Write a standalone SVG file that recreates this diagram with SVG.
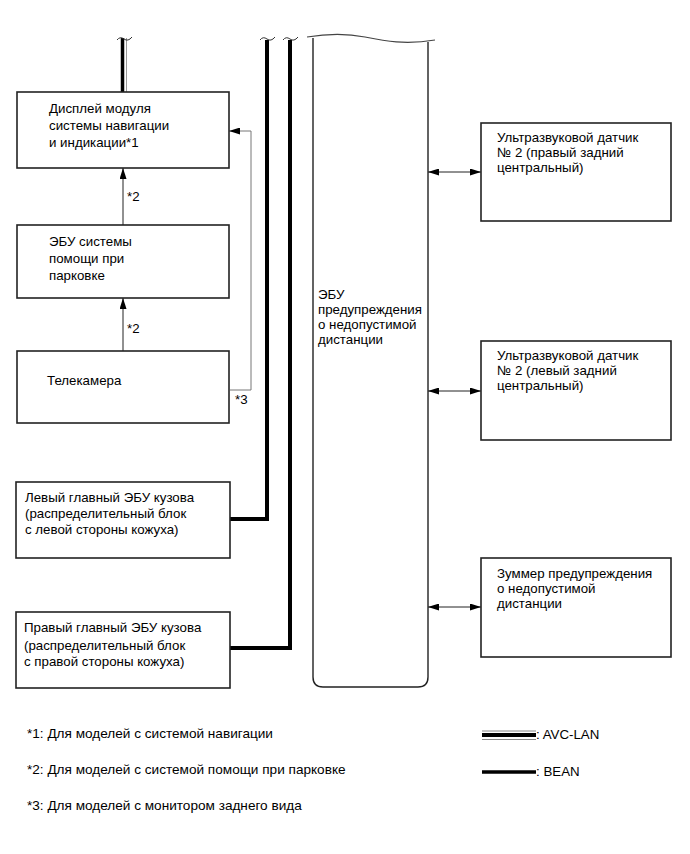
<svg xmlns="http://www.w3.org/2000/svg" width="690" height="854" viewBox="0 0 690 854">
<defs>
<style>
text{font-family:"Liberation Sans",Arial,sans-serif;font-size:13.3px;fill:#000}
.fn{font-size:13.6px}
.box{fill:#fff;stroke:#222;stroke-width:1.6}
.thin{fill:none;stroke:#222;stroke-width:1}
.gray{fill:none;stroke:#777;stroke-width:1}
.bean{fill:none;stroke:#000;stroke-width:4}
.tilde{fill:none;stroke:#333;stroke-width:1}
</style>
<marker id="ah" viewBox="0 0 11 7" refX="11" refY="3.5" markerWidth="11" markerHeight="7" markerUnits="userSpaceOnUse" orient="auto-start-reverse">
<path d="M0,0 L11,3.5 L0,7 Z" fill="#000"/>
</marker>
</defs>

<g id="connectors">
<line x1="122.5" y1="38" x2="122.5" y2="92" stroke="#000" stroke-width="3.5"/>
<line x1="126.5" y1="38" x2="126.5" y2="92" stroke="#999" stroke-width="1"/>
<path class="tilde" d="M117,40 Q120,36 124,39 Q128,42 132,37"/>
<polyline class="bean" points="267,40 267,519 230,519"/>
<polyline class="bean" points="290,40 290,648 230,648"/>
<path class="tilde" d="M260,40 Q263,36 267,39 Q271,42 275,37"/>
<path class="tilde" d="M283,40 Q286,36 290,39 Q294,42 298,37"/>
<line class="thin" x1="123" y1="225" x2="123" y2="168" marker-end="url(#ah)"/>
<line class="thin" x1="123" y1="351" x2="123" y2="298" marker-end="url(#ah)"/>
<text x="127" y="201">*2</text>
<text x="127" y="333">*2</text>
<polyline class="gray" points="230,390 251,390 251,131 229,131" marker-end="url(#ah)"/>
<text x="235" y="404">*3</text>
<line class="thin" x1="428" y1="172" x2="481" y2="172" marker-start="url(#ah)" marker-end="url(#ah)"/>
<line class="thin" x1="428" y1="391" x2="481" y2="391" marker-start="url(#ah)" marker-end="url(#ah)"/>
<line class="thin" x1="428" y1="607" x2="481" y2="607" marker-start="url(#ah)" marker-end="url(#ah)"/>
</g>

<g id="display">
<rect class="box" x="17" y="92" width="212" height="76"/>
<text x="49" y="113">Дисплей модуля</text>
<text x="49" y="130">системы навигации</text>
<text x="49" y="147">и индикации*1</text>
</g>

<g id="parking-ecu">
<rect class="box" x="17" y="225" width="212" height="73"/>
<text x="49" y="246">ЭБУ системы</text>
<text x="49" y="263">помощи при</text>
<text x="49" y="280">парковке</text>
</g>

<g id="camera">
<rect class="box" x="17" y="351" width="212" height="72"/>
<text x="47" y="385">Телекамера</text>
</g>

<g id="left-body-ecu">
<rect class="box" x="16" y="482" width="214" height="76"/>
<text x="25" y="502">Левый главный ЭБУ кузова</text>
<text x="25" y="518">(распределительный блок</text>
<text x="25" y="534">с левой стороны кожуха)</text>
</g>

<g id="right-body-ecu">
<rect class="box" x="16" y="612" width="214" height="76"/>
<text x="24" y="632">Правый главный ЭБУ кузова</text>
<text x="24" y="650">(распределительный блок</text>
<text x="24" y="666">с правой стороны кожуха)</text>
</g>

<g id="distance-ecu">
<path fill="#fff" stroke="#222" stroke-width="1.4" d="M313,38 L313,677 Q313,687 323,687 L418,687 Q428,687 428,677 L428,42"/>
<path fill="none" stroke="#444" stroke-width="1.2" d="M307,37 C325,34 345,33 365,37 C385,41 405,45 435,40"/>
<text x="318" y="299">ЭБУ</text>
<text x="318" y="314">предупреждения</text>
<text x="318" y="329">о недопустимой</text>
<text x="318" y="344">дистанции</text>
</g>

<g id="sensor-right">
<rect class="box" x="481" y="123" width="190" height="98"/>
<text x="497" y="142">Ультразвуковой датчик</text>
<text x="497" y="157">№ 2 (правый задний</text>
<text x="497" y="172">центральный)</text>
</g>

<g id="sensor-left">
<rect class="box" x="481" y="341" width="190" height="99"/>
<text x="497" y="360">Ультразвуковой датчик</text>
<text x="497" y="375">№ 2 (левый задний</text>
<text x="497" y="390">центральный)</text>
</g>

<g id="buzzer">
<rect class="box" x="481" y="558" width="190" height="99"/>
<text x="497" y="578">Зуммер предупреждения</text>
<text x="497" y="593">о недопустимой</text>
<text x="497" y="608">дистанции</text>
</g>

<g id="footnotes">
<text class="fn" x="27" y="738">*1: Для моделей с системой навигации</text>
<text class="fn" x="27" y="774">*2: Для моделей с системой помощи при парковке</text>
<text class="fn" x="27" y="810">*3: Для моделей с монитором заднего вида</text>
</g>

<g id="legend">
<line x1="482" y1="731" x2="536" y2="731" stroke="#888" stroke-width="1"/>
<line x1="482" y1="735" x2="536" y2="735" stroke="#000" stroke-width="4"/>
<line x1="482" y1="739.5" x2="536" y2="739.5" stroke="#888" stroke-width="1"/>
<text x="536" y="739">: AVC-LAN</text>
<line x1="482" y1="772" x2="536" y2="772" stroke="#000" stroke-width="3.5"/>
<text x="536" y="776">: BEAN</text>
</g>
</svg>
